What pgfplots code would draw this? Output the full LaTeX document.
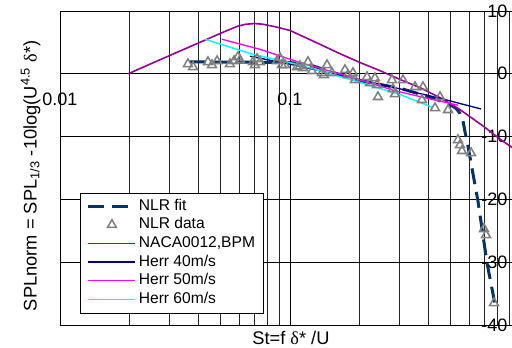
\documentclass[border=0pt]{standalone}
\usepackage{fontspec}
\setmainfont{Liberation Sans}
\newfontfamily\serifgr{Liberation Serif}
\usepackage{pgfplots}
\pgfplotsset{compat=1.18}
\definecolor{nlrfit}{HTML}{003366}
\definecolor{nlrdata}{HTML}{808080}
\definecolor{bpmcol}{HTML}{990099}
\definecolor{herrA}{HTML}{000080}
\definecolor{herrB}{HTML}{FF00FF}
\definecolor{herrC}{HTML}{00FFFF}
\begin{document}
\begin{tikzpicture}
\begin{axis}[
  name=ax, at={(0,0)}, anchor=south west,
  scale only axis, width=345pt, height=235.5pt,
  xmode=log, xmin=0.01, xmax=1, ymin=-40, ymax=10,
  axis x line*=middle, axis y line*=right,
  hide obscured x ticks=false, hide obscured y ticks=false,
  xtick={0.01,0.1}, xticklabels={0.01,0.1},
  minor xtick={0.02,0.03,0.04,0.05,0.06,0.07,0.08,0.09,0.2,0.3,0.4,0.5,0.6,0.7,0.8,0.9,1},
  ytick={-40,-30,-20,-10,0,10}, yticklabels={-40,-30,-20,-10,0,10},
  grid=both,
  grid style={black, line width=0.6pt},
  major grid style={black, line width=0.6pt},
  minor grid style={black!85, line width=0.6pt},
  axis line style={black, line width=0.6pt},
  major tick length=0pt, minor tick length=0pt,
  tick label style={font=\fontsize{13.5}{16}\selectfont},
  xticklabel style={anchor=north, yshift=-11pt},
  yticklabel style={anchor=east, xshift=-6pt},
  every axis y label/.style={at={(axis description cs:-0.051,0.475)}, rotate=90, anchor=base},
  every axis x label/.style={at={(axis description cs:0.502,-0.061)}, anchor=base},
  label style={font=\fontsize{13.7}{16}\selectfont},
  ylabel={SPLnorm = SPL\textsubscript{1/3} -10log(U\textsuperscript{4.5} {\serifgr δ}*)},
  xlabel={St=f {\serifgr δ}* /U},
  legend cell align=left,
  legend image code/.code={\draw[mark repeat=2,mark phase=2,#1] plot coordinates {(0cm,0cm) (0.62cm,0cm) (1.24cm,0cm)};},
  legend style={at={(axis description cs:0.0435,0.038)}, anchor=south west,
    draw=black, fill=white,
    font=\fontsize{11.7}{14}\selectfont,
    nodes={inner sep=1.4pt, text height=8.6pt, text depth=2.6pt},
    inner xsep=5pt, inner ysep=3pt},
]
% NLR fit
\addplot[nlrfit, line width=2.25pt, dash pattern=on 12pt off 6pt] coordinates {
(0.0367,1.9) (0.1,1.8) (0.1222,1.4) (0.1956,-1.0) (0.3008,-2.3) (0.4062,-3.7)
(0.4964,-4.9) (0.5268,-5.5) (0.5484,-6.3) (0.5651,-7.5) (0.5765,-9.2) (0.5940,-11.5)
(0.6182,-15.0) (0.6568,-20.3) (0.7187,-30.1) (0.7865,-37.5)};
\addlegendentry{NLR fit}
% NLR data
\addplot[only marks, mark=triangle, mark size=3.8pt, nlrdata, line width=1.15pt] coordinates {
(0.0360,1.56) (0.0379,1.08) (0.0440,1.88) (0.0458,1.40) (0.0482,2.04) (0.0548,1.56)
(0.0571,2.04) (0.0594,2.68) (0.0606,2.20) (0.0690,1.88) (0.0704,1.40) (0.0719,2.36)
(0.0741,1.88) (0.0878,2.04) (0.0905,2.52) (0.0923,1.40) (0.0951,1.40) (0.1073,1.08)
(0.1105,1.24) (0.1139,0.92) (0.1197,1.88) (0.1246,0.45) (0.1378,0.13) (0.1405,-0.19)
(0.1448,1.40) (0.1522,0.13) (0.1734,0.61) (0.1787,-0.19) (0.1879,0.13) (0.1917,-0.99)
(0.2162,-0.51) (0.2227,-1.46) (0.2342,-0.67) (0.2389,-1.78) (0.2413,-3.69) (0.2777,-0.99)
(0.2804,-2.42) (0.2861,-3.22) (0.3100,-0.99) (0.3496,-2.10) (0.3787,-2.10) (0.3749,-4.17)
(0.4270,-5.45) (0.4489,-3.69) (0.4864,-5.76) (0.5375,-10.54) (0.5484,-11.34) (0.5595,-12.29)
(0.6124,-12.61) (0.6973,-24.71) (0.7115,-25.67) (0.7709,-36.50)};
\addlegendentry{NLR data}
% BPM
\addplot[bpmcol, line width=1.2pt] coordinates {
(0.0198,0.0) (0.0246,1.53) (0.0316,3.27) (0.0427,5.36) (0.0522,6.75) (0.0590,7.55)
(0.0640,7.88) (0.0700,8.0) (0.0760,7.9) (0.0861,7.5) (0.1,6.9) (0.1350,4.7) (0.1650,3.2) (0.2015,1.8)
(0.2462,0.5) (0.3008,-0.9) (0.3674,-2.2) (0.4488,-3.8) (0.5484,-5.7) (0.6904,-8.3)
(0.8184,-10.4) (1.0,-12.6)};
\addlegendentry{NACA0012,BPM}
% Herr 40
\addplot[herrA, line width=1pt] coordinates {
(0.0670,2.8) (0.1105,1.2) (0.1824,-0.6) (0.3008,-2.4) (0.4488,-3.9) (0.6767,-5.6)};
\addlegendentry{Herr 40m/s}
% Herr 50
\addplot[herrB, line width=1pt] coordinates {
(0.0506,5.5) (0.0741,3.9) (0.1105,1.8) (0.1824,-0.5) (0.2861,-2.7) (0.4062,-4.0) (0.5375,-5.0)};
\addlegendentry{Herr 50m/s}
% Herr 60
\addplot[herrC, line width=1.1pt] coordinates {
(0.0427,5.5) (0.0690,3.1) (0.1105,1.4) (0.1824,-0.9) (0.3008,-3.3) (0.4143,-5.3)};
\addlegendentry{Herr 60m/s}
\end{axis}
\pgfresetboundingbox
\path[use as bounding box] (-45pt,-17.25pt) rectangle (339pt,243.75pt);
\end{tikzpicture}
\end{document}
